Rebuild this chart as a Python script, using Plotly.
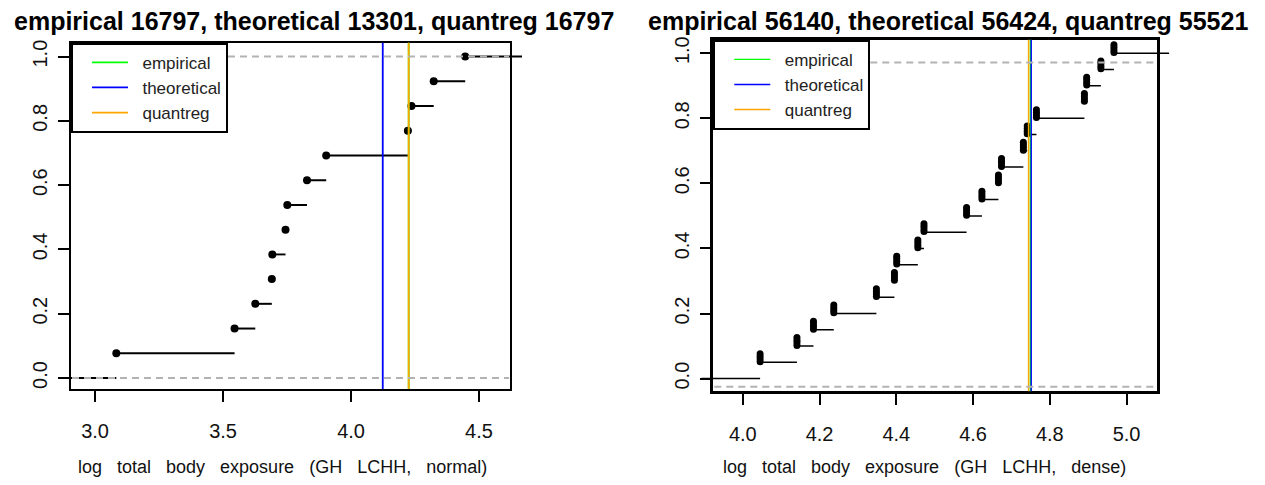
import plotly.graph_objects as go
import math

# --- data ------------------------------------------------------------------
# left panel: log total body exposure, GH LCHH "normal" (13 obs)
normal_x = [3.083, 3.545, 3.626, 3.6905, 3.6925, 3.744, 3.751, 3.828, 3.903,
            4.222, 4.236, 4.323, 4.446]
normal_est = {"empirical": 16797, "theoretical": 13301, "quantreg": 16797}

# right panel: GH LCHH "dense" (20 obs)
dense_x = [4.045, 4.141, 4.184, 4.237, 4.348, 4.395, 4.401, 4.456, 4.472, 4.583,
           4.623, 4.666, 4.674, 4.731, 4.741, 4.765, 4.890, 4.896, 4.933, 4.967]
dense_est = {"empirical": 56140, "theoretical": 56424, "quantreg": 55521}
dense_ref_lines = [-0.025, 0.971]   # grey dashed lines sit a bit low in this panel

normal_ticks = [3.0, 3.5, 4.0, 4.5]
dense_ticks = [4.0, 4.2, 4.4, 4.6, 4.8, 5.0]
y_ticks = [0.0, 0.2, 0.4, 0.6, 0.8, 1.0]

est_names = ["empirical", "theoretical", "quantreg"]
est_colors = {"empirical": "#00FF00", "theoretical": "#0000FF", "quantreg": "#FFA500"}

# the page body keeps its default 8px margin, so the figure is drawn 8px in
OFF = 8
W, H = 1265 - OFF, 485 - OFF
FONT = "Liberation Sans, Arial, Helvetica, sans-serif"
EXT = 12  # px the step lines run past the box (as in the R output)
NB = "\u00a0"


def pxx(p):
    return (p - OFF) / W


def pxy(p):
    return 1 - (p - OFF) / H


def ecdf_steps(xs, lo, hi):
    # horizontal pieces of the step function, separated by None
    n = len(xs)
    knots = [lo] + list(xs) + [hi]
    sx, sy = [], []
    for i in range(n + 1):
        sx += [knots[i], knots[i + 1], None]
        sy += [i / n, i / n, None]
    return sx, sy


panels = [
    dict(xs=normal_x, est=normal_est, ticks=normal_ticks, refs=[0.0, 1.0],
         box=(71, 510, 40, 388.3), xr=(2.906, 4.621), yr=(-0.034, 1.043),
         lw=2.0, vlw=1.8, boxw=2.0, dense=False,
         xlabel="log   total   body   exposure   (GH   LCHH,   normal)",
         title_cx=314, xlabel_cx=282),
    dict(xs=dense_x, est=dense_est, ticks=dense_ticks, refs=dense_ref_lines,
         box=(713.3, 1157.3, 37, 390.7), xr=(3.923, 5.080), yr=(-0.039, 1.041),
         lw=1.5, vlw=1.4, boxw=2.5, dense=True,
         xlabel="log   total   body   exposure   (GH   LCHH,   dense)",
         title_cx=948, xlabel_cx=924),
]

fig = go.Figure()
layout = dict(width=W, height=H, margin=dict(l=0, r=0, t=0, b=0),
              plot_bgcolor="rgba(0,0,0,0)", paper_bgcolor="white",
              font=dict(family=FONT, color="black"), annotations=[], shapes=[],
              showlegend=True)

for k, p in enumerate(panels):
    sfx = "" if k == 0 else "2"
    dsfx = "3" if k == 0 else "4"
    vis_x, vis_y = "x" + sfx, "y" + sfx
    dat_x, dat_y = "x" + dsfx, "y" + dsfx
    legend_id = "legend" + sfx
    bx0, bx1, by0, by1 = p["box"]
    dpp = (p["xr"][1] - p["xr"][0]) / (bx1 - bx0)
    wide = (p["xr"][0] - EXT * dpp, p["xr"][1] + EXT * dpp)

    ax_common = dict(showgrid=False, zeroline=False, showline=True, mirror=True,
                     linecolor="black", linewidth=p["boxw"], ticks="outside",
                     ticklen=11, tickwidth=2, tickcolor="black",
                     tickfont=dict(size=20, family=FONT, color="#111"))
    layout["xaxis" + sfx] = dict(
        ax_common, domain=[pxx(bx0), pxx(bx1)], range=list(p["xr"]),
        anchor=vis_y, tickvals=p["ticks"], ticktext=[f"{t:.1f}" for t in p["ticks"]],
        ticklabelstandoff=12)
    layout["yaxis" + sfx] = dict(
        ax_common, domain=[pxy(by1), pxy(by0)], range=list(p["yr"]),
        anchor=vis_x, tickvals=y_ticks, ticktext=[f"{t:.1f}" for t in y_ticks],
        tickangle=-90, ticklabelstandoff=3)
    layout["xaxis" + dsfx] = dict(
        domain=[pxx(bx0 - EXT), pxx(bx1 + EXT)], range=list(wide),
        anchor=dat_y, visible=False, showgrid=False, zeroline=False)
    layout["yaxis" + dsfx] = dict(
        domain=[pxy(by1), pxy(by0)], range=list(p["yr"]),
        anchor=dat_x, visible=False, showgrid=False, zeroline=False)

    # empty trace so the framed subplot is always built
    fig.add_trace(go.Scatter(x=[None], y=[None], xaxis=vis_x, yaxis=vis_y,
                             showlegend=False, hoverinfo="skip"))

    # step segments
    sx, sy = ecdf_steps(p["xs"], wide[0], wide[1])
    fig.add_trace(go.Scatter(x=sx, y=sy, mode="lines", xaxis=dat_x, yaxis=dat_y,
                             line=dict(color="black", width=p["lw"]),
                             showlegend=False, hoverinfo="skip"))
    n = len(p["xs"])
    levels = [(i + 1) / n for i in range(n)]
    if not p["dense"]:
        fig.add_trace(go.Scatter(x=p["xs"], y=levels, mode="markers",
                                 xaxis=dat_x, yaxis=dat_y,
                                 marker=dict(color="black", size=8),
                                 showlegend=False))
    else:
        # points render as short vertical blobs here: stack dots per point
        for off in (0.002, 0.010, 0.018, 0.026):
            fig.add_trace(go.Scatter(x=p["xs"], y=[v + off for v in levels],
                                     mode="markers", xaxis=dat_x, yaxis=dat_y,
                                     marker=dict(color="black", size=7),
                                     showlegend=False))

    # vertical estimate lines (drawn after the ecdf, like abline)
    for name in est_names:
        v = math.log10(p["est"][name])
        fig.add_trace(go.Scatter(x=[v, v], y=[p["yr"][0] - 1, p["yr"][1] + 1],
                                 mode="lines", xaxis=dat_x, yaxis=dat_y,
                                 line=dict(color=est_colors[name], width=p["vlw"]),
                                 name=NB * 2 + name, legend=legend_id,
                                 hoverinfo="skip"))

    # grey dashed reference lines
    for lvl in p["refs"]:
        layout["shapes"].append(dict(
            type="line", xref="paper", yref=vis_y, x0=pxx(bx0 + 1), x1=pxx(bx1 - 1),
            y0=lvl, y1=lvl, layer="above",
            line=dict(color="#B3B3B3", width=2, dash="7px,5px")))

    layout[legend_id] = dict(
        x=pxx(bx0), y=pxy(by0), xanchor="left", yanchor="top",
        bordercolor="black", borderwidth=2, bgcolor="white",
        font=dict(size=17, family=FONT, color="#222"), itemwidth=36,
        indentation=14, tracegroupgap=0)

    title = ", ".join(f"{nm} {p['est'][nm]}" for nm in est_names)
    layout["annotations"].append(dict(
        text=title, xref="paper", yref="paper", x=pxx(p["title_cx"]), y=pxy(18),
        xanchor="center", yanchor="middle", showarrow=False,
        font=dict(size=25, family=FONT, color="black", weight="bold")))
    layout["annotations"].append(dict(
        text=p["xlabel"], xref="paper", yref="paper", x=pxx(p["xlabel_cx"]),
        y=pxy(467), xanchor="center", yanchor="middle", showarrow=False,
        font=dict(size=18, family=FONT, color="#111")))

fig.update_layout(**layout)
fig.write_html("out.html")
